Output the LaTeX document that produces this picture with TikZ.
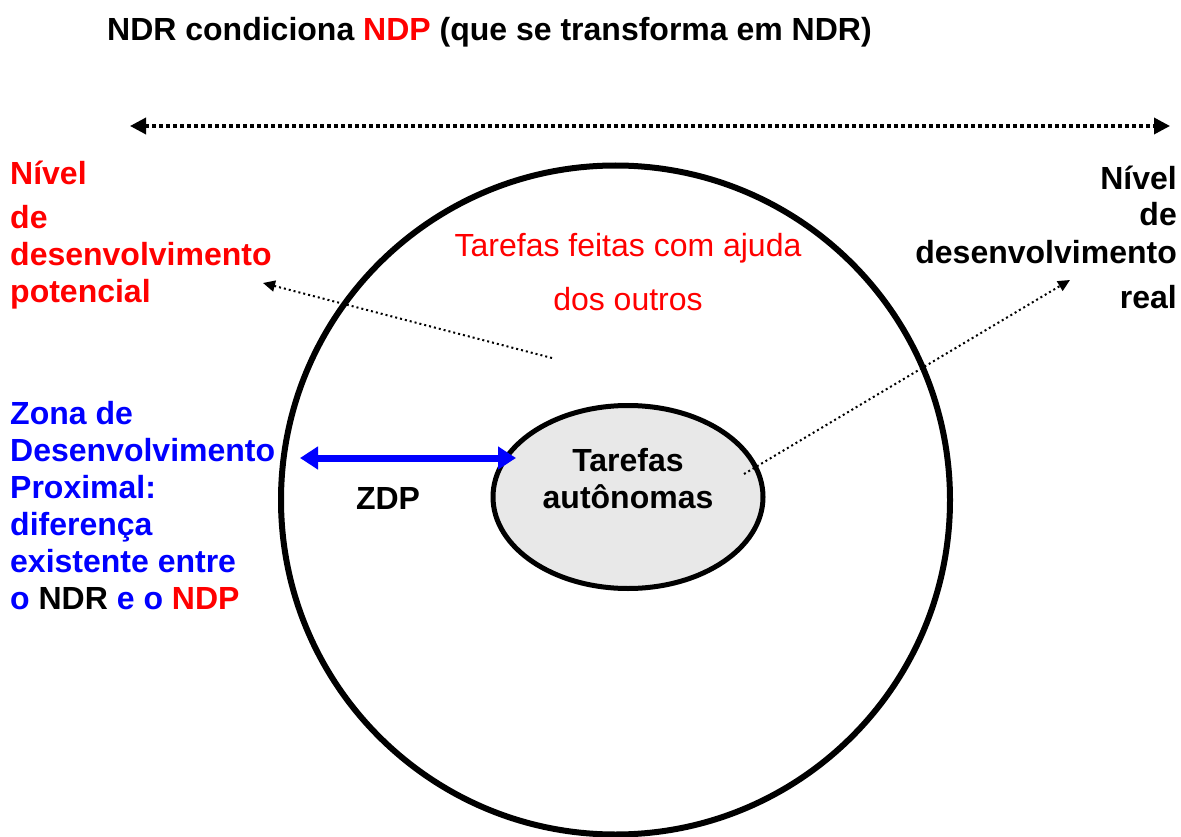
\documentclass[tikz,border=0pt]{standalone}
\usepackage{fontspec}
\setmainfont{Liberation Sans}
\usetikzlibrary{arrows.meta,shapes.geometric}
\definecolor{zred}{RGB}{255,0,0}
\definecolor{zblue}{RGB}{0,0,255}
\definecolor{zgray}{RGB}{232,232,232}
\tikzset{
  lbl/.style={inner sep=0pt, font=\fontsize{32}{37}\selectfont\bfseries},
  plain/.style={inner sep=0pt, font=\fontsize{32}{37}\selectfont},
  dotarrow/.style={line width=2pt, dash pattern=on 2pt off 3pt, -{Triangle[length=12pt,width=11pt]}},
  toparrow/.style={line width=3.5pt, dash pattern=on 3.5pt off 3.5pt, {Triangle[length=16pt,width=16pt]}-{Triangle[length=16pt,width=16pt]}},
  zdparrow/.style={line width=7pt, draw=zblue, {Triangle[length=18pt,width=22pt]}-{Triangle[length=18pt,width=22pt]}}
}
\begin{document}
\begin{tikzpicture}[x=1pt,y=-1pt]
\useasboundingbox (0,0) rectangle (1181,837);
% title
\node[lbl, anchor=base west] (title) at (107,41) {NDR condiciona \textcolor{zred}{NDP} (que se transforma em NDR)};
% top dotted arrow
\coordinate (tl) at (130,126);
\coordinate (tr) at (1170,126);
\draw[toparrow] (tl) -- (tr);
% circles
\draw[line width=6pt] (615.5,500) circle[radius=334.5];
\node[draw, line width=5pt, fill=zgray, ellipse, minimum width=270pt, minimum height=183pt] (inner) at (628,497) {};
\node[lbl, align=center, anchor=base] (auto) at (628,508) {Tarefas\\autônomas};
% red text inside
\node[plain, text=zred, align=center, anchor=base] (ajuda) at (628,310) {Tarefas feitas com ajuda\\[17pt]dos outros};
% left label
\node[lbl, text=zred, align=left, anchor=base west] (ndp) at (10,302) {Nível\\[7pt]de\\desenvolvimento\\potencial};
% right label
\node[lbl, align=right, anchor=base east] (ndr) at (1177,308) {Nível\\de\\desenvolvimento\\[8pt]real};
% blue label
\node[lbl, text=zblue, align=left, anchor=base west] (zona) at (10,609) {Zona de\\Desenvolvimento\\Proximal:\\diferença\\existente entre\\o \textcolor{black}{NDR} e o \textcolor{zred}{NDP}};
% ZDP arrow
\coordinate (za) at (300,458);
\coordinate (zb) at (516,458);
\draw[zdparrow] (za) -- (zb);
\node[lbl, anchor=base] (zdp) at (388,509) {ZDP};
% dotted arrows
\coordinate (p1) at (552,358);
\coordinate (q1) at (263,283);
\draw[dotarrow] (p1) -- (q1);
\coordinate (p2) at (744,474);
\coordinate (q2) at (1070,280);
\draw[dotarrow] (p2) -- (q2);
\end{tikzpicture}
\end{document}
